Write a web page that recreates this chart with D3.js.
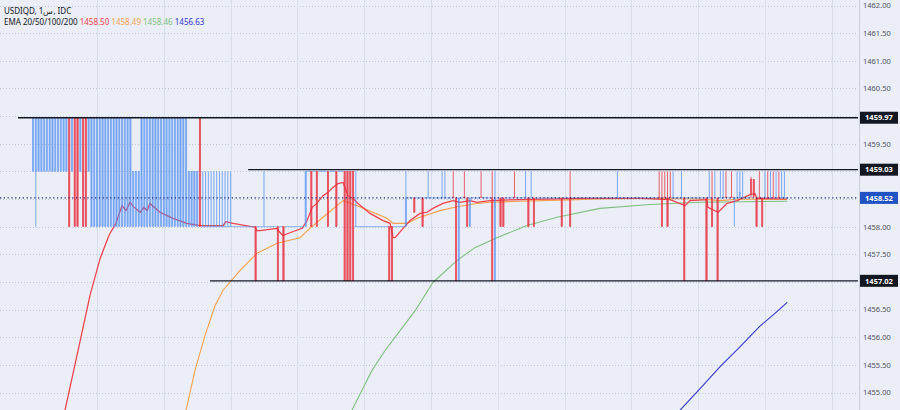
<!DOCTYPE html>
<html><head><meta charset="utf-8">
<script src="https://cdn.jsdelivr.net/npm/d3@7"></script>
<style>
html,body{margin:0;padding:0;background:#ebeef7;}
svg{display:block;font-family:"Noto Sans","Open Sans",sans-serif;}
</style></head>
<body><svg id="chart" width="900" height="410"></svg>
<script>
// price levels seen in the data
const A = 1459.97, B = 1459.0, C = 1458.52, E = 1458.0, F = 1457.02;

// candles as runs: [count, open, high, low, close]
const candleRuns = [
  [1,B,A,B,A],[1,B,A,E,A],[11,B,A,B,A],[1,A,A,E,E],[1,B,A,B,A],[2,A,A,E,E],[1,B,A,B,A],
  [2,A,A,E,E],[1,B,A,B,A],[15,E,A,E,A],[3,E,B,E,B],[17,E,A,E,A],[4,E,B,E,B],[1,A,A,E,E],
  [11,E,B,E,E],[8,E,E,E,E],[1,E,E,F,F],[2,E,E,E,E],[1,E,B,E,E],[4,E,E,E,E],[1,E,E,F,F],
  [1,E,E,E,E],[1,E,E,F,F],[7,E,E,E,E],[1,E,B,E,B],[1,B,B,B,B],[1,B,B,E,E],[1,B,B,B,B],
  [1,B,B,E,E],[3,B,B,B,B],[1,B,B,E,E],[2,B,B,B,B],[1,B,B,E,E],[2,B,B,B,B],[4,B,B,F,F],
  [1,E,B,E,E],[11,E,E,E,E],[2,E,E,F,F],[4,E,E,E,E],[1,E,B,E,C],[2,C,C,C,C],
  [1,C,C,1458.26,1458.26],[2,C,C,C,C],[1,C,C,E,E],[1,C,C,C,C],[1,C,B,C,C],[4,C,C,C,C],
  [2,C,B,C,C],[2,C,C,C,C],[1,1458.53,B,C,C],[1,C,C,F,F],[1,F,C,F,C],[1,C,C,C,C],
  [1,1458.53,B,C,C],[1,C,C,E,E],[1,E,C,E,C],[3,C,C,C,C],[1,1458.53,B,C,C],[3,C,C,C,C],
  [1,C,B,F,F],[1,F,B,F,C],[1,C,C,C,C],[2,C,C,E,E],[3,C,C,C,C],[1,1458.53,B,C,C],
  [3,C,C,C,C],[1,C,B,C,C],[1,C,C,E,E],[1,C,B,C,C],[1,C,C,E,E],[9,C,C,C,C],[1,C,C,E,E],
  [2,C,C,C,C],[1,C,B,E,E],[16,C,C,C,C],[1,C,B,C,C],[13,C,C,C,C],[1,C,C,C,C],
  [1,1458.53,B,C,C],[1,C,B,E,E],[1,1458.53,B,C,C],[1,C,B,E,E],[1,1458.53,B,C,C],
  [1,C,B,C,C],[2,C,C,C,C],[1,C,B,C,C],[1,C,C,F,F],[7,C,C,C,C],[1,C,C,F,F],[1,C,B,C,C],
  [1,C,B,E,E],[1,C,B,C,C],[1,C,C,F,F],[1,C,B,C,C],[1,C,B,C,C],[1,1458.53,B,C,C],
  [1,C,C,C,C],[1,1458.53,B,C,C],[1,1458.50,1458.53,E,C],[1,C,B,C,C],[1,C,B,C,1458.62],
  [1,C,B,C,C],[2,C,C,C,C],[1,1458.85,1458.9,C,1458.6],[1,1458.85,1458.85,C,1458.55],
  [1,C,C,E,E],[1,1458.53,B,C,C],[1,C,C,E,E],[1,C,B,C,C],[1,1458.53,B,C,C],[1,C,B,C,C],
  [1,1458.53,B,C,C],[1,C,B,C,C],[1,1458.53,B,C,C],[2,C,B,C,C],[1,C,C,C,C]
];

// EMA readings: [bar, value]
const ema20 = [[11.5,1454.68],[16.2,1455.76],[20.5,1456.76],[24.1,1457.42],[26.9,1457.79],[27.7,1457.88],
  [29.8,1458.06],[32.0,1458.38],[33.4,1458.29],[34.9,1458.44],[35.9,1458.37],[38.5,1458.26],[39.9,1458.35],
  [41.0,1458.29],[42.0,1458.42],[45.6,1458.26],[50.3,1458.15],[55.3,1458.06],[60.0,1458.02],[68.3,1458.02],
  [69.3,1458.09],[71.9,1458.06],[79.8,1457.99],[80.5,1457.93],[81.6,1457.93],[87.7,1457.97],[88.8,1457.89],
  [89.8,1457.84],[92.3,1457.89],[96.7,1457.97],[98.5,1458.11],[100.3,1458.35],[102.0,1458.42],[104.2,1458.56],
  [106.0,1458.62],[107.8,1458.71],[109.6,1458.78],[111.4,1458.80],[113.2,1458.56],[115.0,1458.51],
  [116.8,1458.42],[121.1,1458.24],[125.8,1458.11],[128.3,1458.06],[129.4,1457.80],[130.1,1457.80],
  [133.0,1457.97],[135.5,1458.11],[139.1,1458.24],[141.6,1458.26],[143.7,1458.33],[147.3,1458.42],
  [150.9,1458.47],[153.4,1458.44],[157.0,1458.47],[159.5,1458.44],[164.2,1458.47],[175.0,1458.49],
  [196.5,1458.51],[218.1,1458.51],[228.9,1458.49],[234.3,1458.38],[236.1,1458.47],[242.2,1458.49],
  [242.5,1458.35],[246.2,1458.26],[249.4,1458.42],[253.0,1458.47],[257.7,1458.58],[259.4,1458.60],
  [260.1,1458.51],[271,1458.50]];
const ema50 = [[55.0,1454.68],[58.2,1455.40],[61.8,1456.03],[65.4,1456.57],[68.3,1456.85],[74.4,1457.21],
  [80.5,1457.52],[87.7,1457.70],[95.9,1457.80],[99.5,1457.97],[104.2,1458.17],[111.4,1458.47],[116.4,1458.38],
  [127.2,1458.15],[129.4,1458.06],[134.4,1458.06],[138.0,1458.15],[146.2,1458.29],[152.4,1458.36],
  [159.5,1458.42],[164.2,1458.44],[175.0,1458.46],[189.4,1458.48],[203.7,1458.50],[221.7,1458.51],
  [239.7,1458.50],[246.9,1458.47],[254.1,1458.50],[271,1458.49]];
const ema100 = [[114.6,1454.68],[118.2,1455.04],[121.8,1455.40],[126.5,1455.76],[131.9,1456.12],
  [137.3,1456.48],[143.7,1456.99],[152.4,1457.39],[158.8,1457.62],[166.7,1457.80],[177.5,1458.02],
  [188.3,1458.17],[203.7,1458.33],[221.7,1458.40],[239.7,1458.44],[271,1458.46]];
const ema200 = [[232.5,1454.68],[239.7,1455.07],[246.9,1455.47],[254.1,1455.83],[261.2,1456.20],
  [266.6,1456.43],[271,1456.63]];

const emaNames = ["20","50","100","200"];
const emaLast = ["1458.50","1458.49","1458.46","1456.63"];
const levelPrices = [1459.97, 1459.03, 1457.02];
const levelStartBars = [-5.4, 77.3, 63.6];
const lastPrice = 1458.52;
const yTicks = [1455.0,1455.5,1456.0,1456.5,1457.0,1457.5,1458.0,1458.5,1459.0,1459.5,1460.0,1460.5,1461.0,1461.5,1462.0];
const timeGridBars = [23,47,71,95,119,143,167,191,215,239,263,287];

// expand runs
const candles = [];
candleRuns.forEach(r => { for (let k = 0; k < r[0]; k++) candles.push({o:r[1],h:r[2],l:r[3],c:r[4]}); });
candles.forEach((d,i)=> d.i = i);

const W = 900, H = 410, plotRight = 858;
const x = d3.scaleLinear().domain([0, 271]).range([33, 33 + 271*2.783]);
const y = d3.scaleLinear().domain([1455, 1462]).range([392.5, 5.5]);

const UP = "#4a8bf3", DOWN = "#e9323f";
const svg = d3.select("#chart");
svg.append("rect").attr("width",W).attr("height",H).attr("fill","#ebeef7");
svg.append("defs").append("clipPath").attr("id","clip")
  .append("rect").attr("x",0).attr("y",0).attr("width",plotRight).attr("height",H);

// grid
const grid = svg.append("g");
grid.selectAll("line.h").data(yTicks).join("line")
  .attr("x1",0).attr("x2",plotRight).attr("y1",d=>Math.round(y(d))+0.5).attr("y2",d=>Math.round(y(d))+0.5)
  .attr("stroke","#c3c8d6").attr("stroke-width",1).attr("stroke-dasharray","1,2");
grid.selectAll("line.v").data(timeGridBars).join("line")
  .attr("x1",d=>Math.round(x(d))+0.5).attr("x2",d=>Math.round(x(d))+0.5).attr("y1",0).attr("y2",H)
  .attr("stroke","#dadeea").attr("stroke-width",1);

const plot = svg.append("g").attr("clip-path","url(#clip)");

// EMA lines
const line = d3.line().x(d=>x(d[0])).y(d=>y(d[1]));
const emaColors = ["#f0404a","#f5a050","#7fbf80","#3535cc"];
[ema200, ema100, ema50, ema20].forEach((s,k)=>{
  plot.append("path").datum(s).attr("d",line).attr("fill","none")
    .attr("stroke",emaColors[3-k]).attr("stroke-width",k===3?1.25:1.1);
});

// candles
const cg = plot.append("g");
const bw = 1.5;
candles.forEach(d=>{
  const up = d.c >= d.o;
  const col = up ? UP : DOWN;
  const cx = x(d.i);
  if (d.h !== d.l) {
    cg.append("line").attr("x1",cx).attr("x2",cx).attr("y1",y(d.h)).attr("y2",y(d.l))
      .attr("stroke",col).attr("stroke-width",0.9).attr("stroke-opacity",up?0.8:0.85);
  }
  const top = y(Math.max(d.o,d.c)), bot = y(Math.min(d.o,d.c));
  const hgt = Math.max(1, bot - top);
  if (hgt <= 1) {
    cg.append("rect").attr("x",cx - 1.4).attr("y",top - 0.5).attr("width",2.8).attr("height",1)
      .attr("fill",col).attr("fill-opacity",0.6);
  } else {
    cg.append("rect").attr("x",cx - bw/2).attr("y",top).attr("width",bw).attr("height",hgt)
      .attr("fill",col).attr("fill-opacity",up?0.18:0.5).attr("stroke",col).attr("stroke-width",0.5)
      .attr("stroke-opacity",up?0.7:0.9);
  }
});

// horizontal level lines
levelPrices.forEach((p,k)=>{
  plot.append("line").attr("x1",x(levelStartBars[k])).attr("x2",plotRight)
    .attr("y1",y(p)).attr("y2",y(p)).attr("stroke","#131722").attr("stroke-width",1.3);
});
// last price line
plot.append("line").attr("x1",0).attr("x2",plotRight).attr("y1",y(lastPrice)).attr("y2",y(lastPrice))
  .attr("stroke","#1c2670").attr("stroke-width",1.2).attr("stroke-dasharray","1.2,2.6");

// right axis
svg.append("line").attr("x1",plotRight+1.5).attr("x2",plotRight+1.5).attr("y1",0).attr("y2",H)
  .attr("stroke","#c9cdd8");
const labelPrices = levelPrices.concat([lastPrice]);
const shownTicks = yTicks.filter(t => labelPrices.every(p => Math.abs(y(t) - y(p)) > 9));
const axis = d3.axisRight(y).tickValues(shownTicks).tickSize(0).tickPadding(0).tickFormat(d3.format(".2f"));
const ag = svg.append("g").attr("transform",`translate(${plotRight+5},0)`).call(axis);
ag.select(".domain").remove();
ag.selectAll("text").attr("font-size",7.5).attr("fill","#50535e").attr("font-family","Noto Sans, sans-serif");

// price labels
const labels = levelPrices.map(p=>({p, bg:"#131722"})).concat([{p:lastPrice,bg:"#2152c3"}]);
labels.forEach(l=>{
  const yy = y(l.p);
  svg.append("rect").attr("x",plotRight+2).attr("y",yy-6).attr("width",38).attr("height",12).attr("fill",l.bg);
  svg.append("text").attr("x",plotRight+21).attr("y",yy+2.7).attr("text-anchor","middle")
    .attr("font-size",7.5).attr("font-weight","bold").attr("fill","#ffffff").text(d3.format(".2f")(l.p));
});

// legend
svg.append("text").attr("x",4).attr("y",14).attr("font-size",8).attr("fill","#131722").text("USDIQD, 1س, IDC");
const lg = svg.append("text").attr("x",4).attr("y",24.5).attr("font-size",8).attr("fill","#131722");
lg.append("tspan").text("EMA " + emaNames.join("/") + " ");
emaLast.forEach((v,k)=> lg.append("tspan").attr("fill",emaColors[k]).text(v + (k<3?"  ":"")));
</script></body></html>
